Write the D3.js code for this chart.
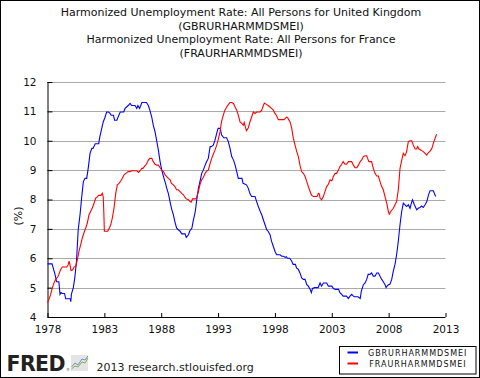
<!DOCTYPE html>
<html><head><meta charset="utf-8">
<script src="https://cdn.jsdelivr.net/npm/d3@7"></script>
<style>body{margin:0;background:#fff}svg{display:block;font-family:"DejaVu Sans",Verdana,sans-serif}</style>
</head><body>
<script>
const titleLines = ["Harmonized Unemployment Rate: All Persons for United Kingdom","(GBRURHARMMDSMEI)","Harmonized Unemployment Rate: All Persons for France","(FRAURHARMMDSMEI)"];
const yAxisLabel = "(%)";
const xTicks = [1978,1983,1988,1993,1998,2003,2008,2013];
const yTicks = [4,5,6,7,8,9,10,11,12];
const seriesNames = ["GBRURHARMMDSMEI","FRAURHARMMDSMEI"];
const seriesColors = ["#0000ff","#ff0000"];
// [decimal year, percent]
const ukData = [[1978.0,5.81],[1978.4,5.81],[1978.5,5.67],[1978.66,5.45],[1978.8,5.2],[1979.0,5.2],[1979.1,4.77],[1979.2,4.83],[1979.3,4.8],[1979.5,4.8],[1979.6,4.62],[1980.0,4.62],[1980.05,4.52],[1980.1,4.77],[1980.27,5.0],[1980.4,5.33],[1980.55,5.9],[1980.7,6.97],[1980.86,7.48],[1981.0,8.05],[1981.15,8.6],[1981.3,8.72],[1981.45,8.72],[1981.6,9.12],[1981.74,9.57],[1981.9,9.74],[1982.0,9.74],[1982.2,9.9],[1982.5,9.9],[1982.6,10.13],[1982.77,10.42],[1982.9,10.64],[1983.06,10.8],[1983.2,10.98],[1983.35,10.98],[1983.5,10.93],[1983.6,10.87],[1983.8,10.87],[1983.9,10.7],[1984.1,10.7],[1984.2,10.8],[1984.4,10.98],[1984.7,10.98],[1984.82,11.1],[1985.1,11.2],[1985.26,11.27],[1985.4,11.2],[1985.7,11.2],[1985.85,11.1],[1985.95,11.2],[1986.1,11.1],[1986.3,11.3],[1986.7,11.3],[1986.87,11.2],[1987.0,11.04],[1987.17,10.8],[1987.3,10.53],[1987.46,10.3],[1987.6,10.0],[1987.75,9.68],[1987.9,9.29],[1988.05,9.0],[1988.2,8.78],[1988.34,8.6],[1988.49,8.38],[1988.63,8.2],[1988.78,7.92],[1988.9,7.7],[1989.07,7.48],[1989.2,7.25],[1989.35,7.03],[1989.5,6.97],[1989.66,6.92],[1989.8,6.83],[1990.1,6.83],[1990.2,6.71],[1990.4,6.8],[1990.5,6.92],[1990.7,7.03],[1990.8,7.25],[1991.0,7.6],[1991.1,7.92],[1991.27,8.38],[1991.4,8.6],[1991.56,8.89],[1991.7,9.0],[1991.86,9.17],[1992.0,9.29],[1992.14,9.4],[1992.3,9.8],[1992.4,9.8],[1992.58,9.85],[1992.73,10.02],[1992.88,10.25],[1993.0,10.42],[1993.2,10.42],[1993.3,10.2],[1993.5,10.1],[1993.75,10.1],[1993.9,9.97],[1994.05,9.74],[1994.2,9.46],[1994.35,9.35],[1994.5,9.17],[1994.64,8.95],[1994.78,8.72],[1995.1,8.72],[1995.2,8.55],[1995.5,8.5],[1995.66,8.38],[1995.8,8.2],[1995.95,8.1],[1996.25,8.1],[1996.4,7.92],[1996.54,7.76],[1996.7,7.6],[1996.84,7.48],[1996.98,7.31],[1997.13,7.14],[1997.28,6.97],[1997.4,6.92],[1997.57,6.8],[1997.7,6.58],[1997.86,6.4],[1998.0,6.24],[1998.15,6.12],[1998.45,6.12],[1998.6,6.07],[1998.75,6.07],[1998.9,6.03],[1999.0,6.05],[1999.1,6.0],[1999.3,6.0],[1999.48,5.9],[1999.6,5.79],[1999.8,5.79],[1999.9,5.67],[2000.06,5.62],[2000.2,5.5],[2000.35,5.33],[2000.5,5.28],[2000.65,5.28],[2000.8,5.1],[2000.94,5.05],[2001.1,4.94],[2001.2,4.83],[2001.3,4.97],[2001.5,5.0],[2001.8,5.0],[2001.97,5.16],[2002.1,5.05],[2002.26,5.16],[2002.55,5.16],[2002.7,5.05],[2003.0,5.05],[2003.15,4.97],[2003.3,4.94],[2003.6,4.94],[2003.72,4.83],[2003.87,4.77],[2004.0,4.71],[2004.3,4.71],[2004.46,4.63],[2004.6,4.71],[2004.75,4.77],[2004.9,4.71],[2005.0,4.69],[2005.3,4.69],[2005.5,4.63],[2005.6,4.88],[2005.78,5.1],[2005.93,5.16],[2006.07,5.28],[2006.2,5.45],[2006.36,5.45],[2006.5,5.5],[2006.65,5.39],[2006.8,5.39],[2006.95,5.5],[2007.1,5.5],[2007.24,5.39],[2007.39,5.28],[2007.53,5.2],[2007.68,5.1],[2007.77,5.0],[2007.92,5.08],[2008.12,5.12],[2008.27,5.28],[2008.41,5.56],[2008.56,5.79],[2008.7,6.12],[2008.85,6.58],[2009.0,7.14],[2009.15,7.6],[2009.29,7.88],[2009.44,7.82],[2009.58,7.76],[2009.73,7.82],[2009.88,7.7],[2010.03,7.92],[2010.1,7.99],[2010.26,7.82],[2010.47,7.65],[2010.6,7.7],[2010.76,7.73],[2010.9,7.78],[2011.05,7.73],[2011.2,7.82],[2011.35,7.92],[2011.5,8.15],[2011.64,8.3],[2011.93,8.3],[2012.08,8.15],[2012.14,8.1]];
const frData = [[1978.0,4.49],[1978.13,4.6],[1978.28,4.77],[1978.43,5.0],[1978.57,5.16],[1978.72,5.28],[1978.9,5.36],[1979.0,5.45],[1979.16,5.62],[1979.3,5.7],[1979.7,5.7],[1979.83,5.79],[1979.9,5.9],[1980.0,5.73],[1980.07,5.58],[1980.2,5.6],[1980.34,5.7],[1980.48,5.73],[1980.63,5.95],[1980.77,6.24],[1980.92,6.46],[1981.06,6.69],[1981.2,6.86],[1981.36,7.03],[1981.5,7.2],[1981.65,7.48],[1981.8,7.6],[1981.94,7.71],[1982.1,7.88],[1982.24,8.05],[1982.4,8.1],[1982.5,8.14],[1982.7,8.14],[1982.82,8.21],[1982.9,8.1],[1982.95,7.6],[1983.0,6.92],[1983.3,6.92],[1983.44,7.03],[1983.56,7.14],[1983.7,7.37],[1983.85,7.71],[1984.0,8.21],[1984.14,8.5],[1984.29,8.55],[1984.44,8.63],[1984.58,8.72],[1984.73,8.84],[1984.88,8.89],[1985.1,8.95],[1985.26,8.95],[1985.4,8.98],[1985.85,8.98],[1986.0,8.92],[1986.14,8.98],[1986.3,9.06],[1986.4,9.06],[1986.58,9.15],[1986.7,9.2],[1986.87,9.34],[1987.0,9.4],[1987.17,9.4],[1987.3,9.29],[1987.46,9.2],[1987.6,9.17],[1987.75,9.17],[1987.9,9.08],[1988.05,9.0],[1988.2,8.95],[1988.34,8.84],[1988.49,8.78],[1988.63,8.72],[1988.78,8.67],[1988.9,8.55],[1989.07,8.5],[1989.2,8.44],[1989.35,8.33],[1989.5,8.33],[1989.66,8.27],[1989.8,8.21],[1989.95,8.16],[1990.1,8.07],[1990.2,8.02],[1990.4,7.99],[1990.54,7.93],[1990.63,7.91],[1990.75,8.02],[1991.0,8.02],[1991.1,8.05],[1991.27,8.27],[1991.4,8.5],[1991.56,8.67],[1991.7,8.75],[1991.86,8.89],[1992.0,8.97],[1992.14,9.0],[1992.3,9.23],[1992.44,9.4],[1992.58,9.54],[1992.73,9.68],[1992.88,9.85],[1993.0,10.02],[1993.17,10.3],[1993.3,10.64],[1993.46,10.87],[1993.6,11.04],[1993.76,11.15],[1993.9,11.23],[1994.05,11.3],[1994.2,11.3],[1994.35,11.27],[1994.5,11.15],[1994.64,11.04],[1994.78,10.87],[1994.93,10.64],[1995.08,10.59],[1995.22,10.53],[1995.3,10.62],[1995.43,10.42],[1995.5,10.34],[1995.66,10.44],[1995.8,10.64],[1995.95,10.81],[1996.1,10.98],[1996.25,10.93],[1996.4,10.98],[1996.7,10.98],[1996.84,11.04],[1996.98,11.2],[1997.07,11.28],[1997.28,11.23],[1997.4,11.2],[1997.57,11.15],[1997.7,11.1],[1997.86,11.04],[1998.0,10.93],[1998.15,10.85],[1998.3,10.72],[1998.8,10.72],[1998.95,10.78],[1999.04,10.81],[1999.15,10.76],[1999.33,10.64],[1999.48,10.42],[1999.62,10.08],[1999.77,9.85],[1999.92,9.63],[2000.06,9.46],[2000.2,9.17],[2000.35,8.95],[2000.5,8.89],[2000.65,8.78],[2000.8,8.61],[2000.94,8.44],[2001.09,8.27],[2001.23,8.14],[2001.4,8.1],[2001.7,8.1],[2001.82,8.21],[2001.9,8.19],[2001.97,8.05],[2002.1,7.99],[2002.26,8.1],[2002.4,8.27],[2002.55,8.44],[2002.7,8.52],[2002.85,8.67],[2003.0,8.63],[2003.14,8.78],[2003.3,8.89],[2003.43,8.89],[2003.58,9.0],[2003.72,9.12],[2003.87,9.2],[2004.0,9.29],[2004.17,9.2],[2004.3,9.2],[2004.46,9.29],[2004.75,9.29],[2004.9,9.17],[2005.05,9.08],[2005.2,9.08],[2005.34,9.17],[2005.5,9.29],[2005.63,9.35],[2005.78,9.46],[2005.93,9.49],[2006.07,9.49],[2006.15,9.4],[2006.27,9.29],[2006.5,9.29],[2006.65,9.06],[2006.8,8.89],[2006.95,8.8],[2007.1,8.8],[2007.24,8.61],[2007.39,8.44],[2007.53,8.33],[2007.68,8.1],[2007.83,7.88],[2007.97,7.6],[2008.06,7.5],[2008.2,7.6],[2008.41,7.7],[2008.56,7.82],[2008.7,7.93],[2008.85,8.33],[2009.0,9.06],[2009.15,9.34],[2009.29,9.57],[2009.44,9.49],[2009.58,9.63],[2009.73,9.97],[2009.88,10.0],[2010.03,10.0],[2010.17,9.85],[2010.32,9.72],[2010.47,9.72],[2010.55,9.8],[2010.67,9.72],[2010.85,9.68],[2011.05,9.63],[2011.2,9.57],[2011.35,9.51],[2011.5,9.6],[2011.64,9.65],[2011.8,9.74],[2011.93,9.91],[2012.08,10.08],[2012.22,10.22]];
const footerText = "2013 research.stlouisfed.org";

const W = 480, H = 378;
const svg = d3.select("body").append("svg").attr("width", W).attr("height", H);
svg.append("rect").attr("x",0.5).attr("y",0.5).attr("width",W-1).attr("height",H-1).attr("fill","#fff").attr("stroke","#000");

// titles
const baselines = [16, 29.5, 43, 56.5];
svg.selectAll("text.title").data(titleLines).enter().append("text")
  .attr("x", 241).attr("y", (d,i)=>baselines[i]).attr("text-anchor","middle")
  .attr("font-size", 11).attr("fill","#111").text(d=>d);

const L = 47.5, R = 445.5, T = 82, B = 317;
const x = d3.scaleLinear().domain([1978, 2013]).range([L, R]);
const y = d3.scaleLinear().domain([4, 12]).range([B, T]);

// gridlines
svg.append("g").selectAll("line").data(yTicks.filter(v=>v>4)).enter().append("line")
  .attr("x1", L).attr("x2", R).attr("y1", d=>Math.round(y(d))+0.5).attr("y2", d=>Math.round(y(d))+0.5)
  .attr("stroke","#aaaaaa").attr("stroke-width",1);

// axes
const yAxis = d3.axisLeft(y).tickValues(yTicks).tickSize(-5).tickPadding(11).tickFormat(d3.format("d"));
const gy = svg.append("g").attr("transform",`translate(${L},0)`).call(yAxis);
const xAxis = d3.axisBottom(x).tickValues(xTicks).tickSize(-4).tickPadding(9).tickFormat(d3.format("d"));
const gx = svg.append("g").attr("transform",`translate(0,${B})`).call(xAxis);
[gx, gy].forEach(g=>{
  g.select(".domain").attr("stroke","#000");
  g.selectAll(".tick line").attr("stroke","#000");
  g.selectAll(".tick text").attr("font-family","DejaVu Sans").attr("font-size",10.5).attr("fill","#111");
});
gy.select(".domain").attr("d", `M0.5,${B}V${T}`);
gx.select(".domain").attr("d", `M${L},0.5H${R}`);

svg.append("text").attr("transform","translate(22,216) rotate(-90)").attr("text-anchor","middle")
  .attr("font-size",11).attr("fill","#111").text(yAxisLabel);

// lines
const line = d3.line().x(d=>x(d[0])).y(d=>y(d[1]));
[ukData, frData].forEach((data,i)=>{
  svg.append("path").datum(data).attr("d", line).attr("fill","none")
    .attr("stroke", seriesColors[i]).attr("stroke-width",1.1);
});

// legend
const lg = svg.append("g");
lg.append("rect").attr("x",339.5).attr("y",346.5).attr("width",136.5).attr("height",27.5).attr("fill","#fff").attr("stroke","#000");
seriesNames.forEach((n,i)=>{
  const yy = 352.5 + i*11;
  lg.append("line").attr("x1",347.5).attr("x2",358).attr("y1",yy).attr("y2",yy)
    .attr("stroke",seriesColors[i]).attr("stroke-width",2);
  lg.append("text").attr("x", 368 + i*1.3).attr("y", yy+3.2).attr("font-size",8).attr("letter-spacing",0.95)
    .attr("fill","#111").text(n);
});

// FRED logo and footer
svg.append("text").attr("x",6.5).attr("y",371).attr("font-size",20.5).attr("font-weight","bold")
  .attr("letter-spacing",-0.6).attr("fill","#222").text("FRED");
svg.append("text").attr("x",66).attr("y",371).attr("font-size",4).attr("fill","#555").text("®");
const ic = svg.append("g");
ic.append("rect").attr("x",71).attr("y",355).attr("width",17).attr("height",16).attr("fill","#e4e4e4");
ic.append("path").attr("d","M71.5,369 L75,366 L78,367 L82,362 L85,363 L88,358").attr("fill","none").attr("stroke","#7fae5a").attr("stroke-width",1);
ic.append("path").attr("d","M71.5,367 L75,363 L78,365 L82,359 L85,360 L88,356").attr("fill","none").attr("stroke","#6f8fc9").attr("stroke-width",1);
svg.append("text").attr("x",96.5).attr("y",371).attr("font-size",11).attr("fill","#222").text(footerText);
</script>
</body></html>
